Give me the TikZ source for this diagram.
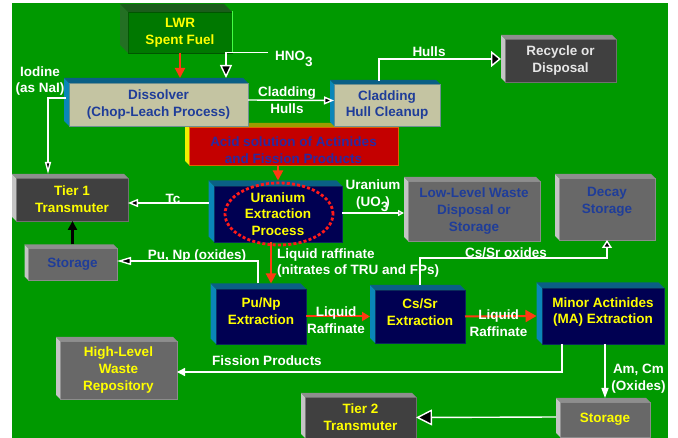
\documentclass[tikz,border=0pt]{standalone}
\usepackage{fontspec}
\setmainfont{Liberation Sans}
\usetikzlibrary{arrows.meta}
\definecolor{bggreen}{HTML}{009900}
\definecolor{grnfill}{HTML}{007800}
\definecolor{grnedge}{HTML}{005500}
\definecolor{grnL}{HTML}{237023}
\definecolor{grnT}{HTML}{1B5C1B}
\definecolor{grnhi}{HTML}{44FF44}
\definecolor{tanfill}{HTML}{C4C4A2}
\definecolor{tanedge}{HTML}{6E9090}
\definecolor{tealL}{HTML}{0A86B8}
\definecolor{tealT}{HTML}{0A5F85}
\definecolor{navyfill}{HTML}{000052}
\definecolor{navyedge}{HTML}{0A2A5A}
\definecolor{acidfill}{HTML}{C40000}
\definecolor{acidedge}{HTML}{E06000}
\definecolor{acidL}{HTML}{F0F000}
\definecolor{acidT}{HTML}{9C9C00}
\definecolor{acidtext}{HTML}{2A2AA0}
\definecolor{dkfill}{HTML}{404040}
\definecolor{dkedge}{HTML}{707070}
\definecolor{mdfill}{HTML}{686868}
\definecolor{mdedge}{HTML}{8C8C8C}
\definecolor{greyL}{HTML}{C4C4C4}
\definecolor{greyT}{HTML}{8E8E8E}
\definecolor{txtyel}{HTML}{FFFF00}
\definecolor{txtblue}{HTML}{1F3D99}
\definecolor{rectext}{HTML}{E6E6E6}
\definecolor{redarr}{HTML}{FF3A12}
\definecolor{ellred}{HTML}{FF1A1A}

\begin{document}
\begin{tikzpicture}[x=1pt,y=-1pt,font=\fontsize{13.5}{16.7}\selectfont\bfseries,
  box/.style={draw,line width=0.8pt,inner sep=0pt,outer sep=0pt,align=center},
  sz/.style 2 args={minimum width=#1pt,minimum height=#2pt},
  grnbox/.style={box,fill=grnfill,draw=grnedge,text=txtyel},
  tanbox/.style={box,fill=tanfill,draw=tanedge,text=txtblue},
  acidbox/.style={box,fill=acidfill,draw=acidedge,text=acidtext},
  navybox/.style={box,fill=navyfill,draw=navyedge,text=txtyel},
  dkbox/.style={box,fill=dkfill,draw=dkedge,text=txtyel},
  mdbox/.style={box,fill=mdfill,draw=mdedge,text=txtblue},
  lbl/.style={text=white,inner sep=0pt,align=center},
  wire/.style={draw=white,line width=1.4pt},
  redwire/.style={draw=redarr,line width=2pt,-{Triangle[length=10pt,width=10pt]}},
  blktip/.style 2 args={-{Triangle[length=#1pt,width=#2pt,fill=black]}},
  whttip/.style 2 args={-{Triangle[length=#1pt,width=#2pt,fill=white]}}]
\useasboundingbox (0,0) rectangle (678,438);
\fill[white] (0,0) rectangle (678,438);
\fill[bggreen] (12,3) rectangle (668,438);

% acid solution first, the boxes above overlap its top edge
\node[acidbox,sz={209}{38}] (acid) at (293.5,146) {};
\fill[acidL] (acid.north west) -- ++(-4,-4) -- ([shift={(-4,-4)}]acid.south west) -- (acid.south west) -- cycle;
\fill[acidT] (acid.north west) -- ++(-4,-4) -- ([shift={(-4,-4)}]acid.north east) -- (acid.north east) -- cycle;
\node[text=acidtext,align=center] (acidtx) at (293.5,150) {Acid solution of Actinides\\and Fission Products};

\node[grnbox,sz={104}{41}] (lwr) at (180,32.5) {LWR\\Spent Fuel};
\fill[grnL] (lwr.north west) -- ++(-8,-8) -- ([shift={(-8,-8)}]lwr.south west) -- (lwr.south west) -- cycle;
\fill[grnT] (lwr.north west) -- ++(-8,-8) -- ([shift={(-8,-8)}]lwr.north east) -- (lwr.north east) -- cycle;
\draw[grnhi,line width=1pt] ([yshift=1pt]lwr.north east) -- (lwr.south east);

\node[tanbox,sz={179}{43}] (dis) at (158.5,104.5) {Dissolver\\(Chop-Leach Process)};
\fill[tealL] (dis.north west) -- ++(-5,-5) -- ([shift={(-5,-5)}]dis.south west) -- (dis.south west) -- cycle;
\fill[tealT] (dis.north west) -- ++(-5,-5) -- ([shift={(-5,-5)}]dis.north east) -- (dis.north east) -- cycle;

\node[tanbox,sz={106}{42}] (cla) at (387,105) {Cladding\\Hull Cleanup};
\fill[tealL] (cla.north west) -- ++(-4,-4) -- ([shift={(-4,-4)}]cla.south west) -- (cla.south west) -- cycle;
\fill[tealT] (cla.north west) -- ++(-4,-4) -- ([shift={(-4,-4)}]cla.north east) -- (cla.north east) -- cycle;

\node[dkbox,text=rectext,sz={111}{43}] (rec) at (560.5,60.5) {Recycle or\\Disposal};
\fill[greyL] (rec.north west) -- ++(-4,-4) -- ([shift={(-4,-4)}]rec.south west) -- (rec.south west) -- cycle;
\fill[greyT] (rec.north west) -- ++(-4,-4) -- ([shift={(-4,-4)}]rec.north east) -- (rec.north east) -- cycle;

\node[navybox,sz={128}{56}] (ux) at (278,214) {Uranium\\Extraction\\Process};
\fill[tealL] (ux.north west) -- ++(-5.5,-5.5) -- ([shift={(-5.5,-5.5)}]ux.south west) -- (ux.south west) -- cycle;
\fill[tealT] (ux.north west) -- ++(-5.5,-5.5) -- ([shift={(-5.5,-5.5)}]ux.north east) -- (ux.north east) -- cycle;
\draw[ellred,line width=2.8pt,dash pattern=on 3pt off 2.2pt] (279,214) ellipse [x radius=54pt,y radius=31pt];

\node[dkbox,sz={112}{43}] (t1) at (72,199.5) {Tier 1\\Transmuter};
\fill[greyL] (t1.north west) -- ++(-4,-4) -- ([shift={(-4,-4)}]t1.south west) -- (t1.south west) -- cycle;
\fill[greyT] (t1.north west) -- ++(-4,-4) -- ([shift={(-4,-4)}]t1.north east) -- (t1.north east) -- cycle;

\node[mdbox,sz={89}{32}] (stl) at (72.5,264) {Storage};
\fill[greyL] (stl.north west) -- ++(-3.5,-3.5) -- ([shift={(-3.5,-3.5)}]stl.south west) -- (stl.south west) -- cycle;
\fill[greyT] (stl.north west) -- ++(-3.5,-3.5) -- ([shift={(-3.5,-3.5)}]stl.north east) -- (stl.north east) -- cycle;

\node[mdbox,sz={132}{60}] (llw) at (474,211) {Low-Level Waste\\Disposal or\\Storage};
\fill[greyL] (llw.north west) -- ++(-4,-4) -- ([shift={(-4,-4)}]llw.south west) -- (llw.south west) -- cycle;
\fill[greyT] (llw.north west) -- ++(-4,-4) -- ([shift={(-4,-4)}]llw.north east) -- (llw.north east) -- cycle;

\node[mdbox,sz={96}{62}] (dec) at (607,209) {};
\fill[greyL] (dec.north west) -- ++(-4,-4) -- ([shift={(-4,-4)}]dec.south west) -- (dec.south west) -- cycle;
\fill[greyT] (dec.north west) -- ++(-4,-4) -- ([shift={(-4,-4)}]dec.north east) -- (dec.north east) -- cycle;
\node[text=txtblue,align=center] (dectx) at (607,201.5) {Decay\\Storage};

\node[navybox,sz={90}{55}] (pn) at (261,316.5) {};
\fill[tealL] (pn.north west) -- ++(-5.5,-5.5) -- ([shift={(-5.5,-5.5)}]pn.south west) -- (pn.south west) -- cycle;
\fill[tealT] (pn.north west) -- ++(-5.5,-5.5) -- ([shift={(-5.5,-5.5)}]pn.north east) -- (pn.north east) -- cycle;
\node[text=txtyel,align=center] (pntx) at (261,311.5) {Pu/Np\\Extraction};

\node[navybox,sz={90}{53}] (cs) at (420,316.5) {};
\fill[tealL] (cs.north west) -- ++(-5,-5) -- ([shift={(-5,-5)}]cs.south west) -- (cs.south west) -- cycle;
\fill[tealT] (cs.north west) -- ++(-5,-5) -- ([shift={(-5,-5)}]cs.north east) -- (cs.north east) -- cycle;
\node[text=txtyel,align=center] (cstx) at (420,312) {Cs/Sr\\Extraction};

\node[navybox,sz={122}{56}] (ma) at (603,316) {};
\fill[tealL] (ma.north west) -- ++(-5.5,-5.5) -- ([shift={(-5.5,-5.5)}]ma.south west) -- (ma.south west) -- cycle;
\fill[tealT] (ma.north west) -- ++(-5.5,-5.5) -- ([shift={(-5.5,-5.5)}]ma.north east) -- (ma.north east) -- cycle;
\node[text=txtyel,align=center] (matx) at (603,312) {Minor Actinides\\(MA) Extraction};

\node[mdbox,text=txtyel,sz={117}{58}] (hlw) at (118.5,370) {High-Level\\Waste\\Repository};
\fill[greyL] (hlw.north west) -- ++(-4,-4) -- ([shift={(-4,-4)}]hlw.south west) -- (hlw.south west) -- cycle;
\fill[greyT] (hlw.north west) -- ++(-4,-4) -- ([shift={(-4,-4)}]hlw.north east) -- (hlw.north east) -- cycle;

\node[mdbox,text=txtyel,sz={90}{35}] (str) at (605,419.5) {Storage};
\fill[greyL] (str.north west) -- ++(-4,-4) -- ([shift={(-4,-4)}]str.south west) -- (str.south west) -- cycle;
\fill[greyT] (str.north west) -- ++(-4,-4) -- ([shift={(-4,-4)}]str.north east) -- (str.north east) -- cycle;

\node[dkbox,sz={111}{41}] (t2) at (360.5,417.5) {Tier 2\\Transmuter};
\fill[greyL] (t2.north west) -- ++(-4,-4) -- ([shift={(-4,-4)}]t2.south west) -- (t2.south west) -- cycle;
\fill[greyT] (t2.north west) -- ++(-4,-4) -- ([shift={(-4,-4)}]t2.north east) -- (t2.north east) -- cycle;

% labels
\node[lbl,anchor=west] (hno) at (275,59) {HNO\raisebox{-6pt}{3}};
\node[lbl] (iod) at (40,81) {Iodine\\(as NaI)};
\node[lbl] (chl) at (287,100.5) {Cladding\\Hulls};
\node[lbl] (hul) at (429,52) {Hulls};
\node[lbl] (tc) at (173,199) {Tc};
\node[lbl] (uo) at (373,196) {Uranium\\(UO\raisebox{-5pt}{3}\kern-3pt)};
\node[lbl] (pun) at (197,256) {Pu, Np (oxides)};
\node[lbl,align=left,anchor=west] (lqr) at (277,263) {Liquid raffinate\\(nitrates of TRU and FPs)};
\node[lbl] (csx) at (506,253) {Cs/Sr oxides};
\node[lbl] (fis) at (267,361) {Fission Products};
\node[lbl] (amc) at (638.5,379) {Am, Cm\\(Oxides)};

% connectors
\draw[redwire,shorten >=5pt] (lwr.south) -- (lwr.south |- dis.north);
\draw[wire,blktip={13}{12}] ([xshift=-7pt,yshift=6.3pt]hno.west) -| ([xshift=67.5pt,yshift=5pt]dis.north);
\draw[wire,blktip={12}{6}] ([xshift=-3pt,yshift=6.5pt]dis.west) -| ([xshift=-24pt,yshift=4pt]t1.north);
\draw[wire,blktip={10}{8}] ([yshift=4.5pt]dis.east) -- ([yshift=4.5pt]cla.west);
\draw[wire,blktip={10}{16}] ([xshift=-8pt,yshift=3pt]cla.north) |- ([xshift=-4pt,yshift=1.5pt]rec.west);
\draw[redwire] (ux.north |- acid.south) -- ([yshift=5.5pt]ux.north);
\draw[wire,blktip={10}{8}] ([xshift=-5.5pt,yshift=11pt]ux.west) -- ([yshift=-3.5pt]t1.east);
\draw[line width=2.6pt,-{Triangle[length=9pt,width=9pt]}] ([yshift=3.5pt]stl.north) -- (stl.north |- t1.south);
\draw[wire,blktip={6}{6}] ([yshift=1pt]ux.east) -- ([xshift=-4pt,yshift=-2pt]llw.west);
\draw[wire,blktip={14}{8}] ([xshift=-3pt,yshift=5.5pt]pn.north) |- ([yshift=3pt]stl.east);
\draw[redwire] ([xshift=-7pt]ux.south) -- ([xshift=10pt,yshift=5.5pt]pn.north);
\draw[wire,blktip={8}{10}] ([yshift=5pt]cs.north) |- ([yshift=-18pt]dec.south) -- (dec.south);
\draw[redwire,-{Triangle[length=8pt,width=9pt]}] (pn.east) -- ([xshift=-5pt]cs.west);
\draw[redwire,-{Triangle[length=11pt,width=12pt]}] (cs.east) -- ([xshift=-5.5pt]ma.west);
\draw[wire,whttip={8}{8}] ([xshift=-41pt]ma.south) |- ([yshift=-2pt]hlw.east);
\draw[wire,whttip={10}{7}] (ma.south -| str.north) -- ([yshift=4pt]str.north);
\draw[wire,blktip={16}{16}] ([xshift=-4pt,yshift=2.5pt]str.west) -- (t2.east);

\node[lbl] (lr1) at (336,320) {Liquid\\Raffinate};
\node[lbl] (lr2) at (498.5,323) {Liquid\\Raffinate};
\end{tikzpicture}
\end{document}
